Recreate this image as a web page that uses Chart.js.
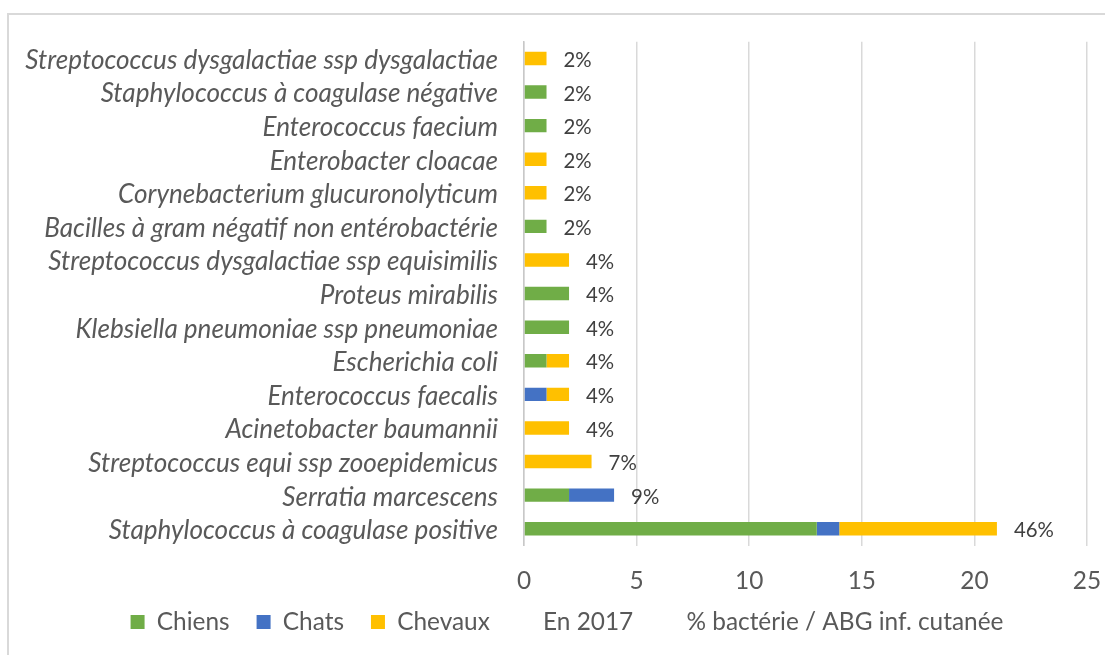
<!DOCTYPE html>
<html>
<head>
<meta charset="utf-8">
<script src="https://cdn.jsdelivr.net/npm/chart.js@4"></script>
<style>
  html, body { margin: 0; padding: 0; background: #fff; overflow: hidden; }
</style>
</head>
<body>
<canvas id="myChartBar" width="1105" height="655"></canvas>
<script>
const categories = [
  'Streptococcus dysgalactiae ssp dysgalactiae',
  'Staphylococcus à coagulase négative',
  'Enterococcus faecium',
  'Enterobacter cloacae',
  'Corynebacterium glucuronolyticum',
  'Bacilles à gram négatif non entérobactérie',
  'Streptococcus dysgalactiae ssp equisimilis',
  'Proteus mirabilis',
  'Klebsiella pneumoniae ssp pneumoniae',
  'Escherichia coli',
  'Enterococcus faecalis',
  'Acinetobacter baumannii',
  'Streptococcus equi ssp zooepidemicus',
  'Serratia marcescens',
  'Staphylococcus à coagulase positive'
];
const chiens  = [0, 1, 1, 0, 0, 1, 0, 2, 2, 1, 0, 0, 0, 2, 13];
const chats   = [0, 0, 0, 0, 0, 0, 0, 0, 0, 0, 1, 0, 0, 2, 1];
const chevaux = [1, 0, 0, 1, 1, 0, 2, 0, 0, 1, 1, 2, 3, 0, 7];
const pctLabels = ['2%', '2%', '2%', '2%', '2%', '2%', '4%', '4%', '4%', '4%', '4%', '4%', '7%', '9%', '46%'];
const xMin = 0, xMax = 25, xStep = 5;

const FONT = 'Lato';

// pick a font size so a string spans about the width seen in the picture
function fitSize(text, target, style) {
  const c = document.createElement('canvas').getContext('2d');
  c.font = style + ' 100px ' + FONT;
  return Math.round(100 * target / c.measureText(text).width * 10) / 10;
}
const yFont = fitSize(categories[0], 473, 'italic');
const legFont = fitSize('% bactérie / ABG inf. cutanée', 317, 'normal');
const lblFont = fitSize('46%', 40, 'normal');
const legPad = 27;
const xAxisH = 48;
const plotBottom = 545.5;
const legendX = 567;
const legendY = 622;

const frame = {
  id: 'frame',
  beforeDraw(chart) {
    const ctx = chart.ctx;
    ctx.save();
    ctx.fillStyle = '#fff';
    ctx.fillRect(0, 0, chart.width, chart.height);
    ctx.strokeStyle = '#d9d9d9';
    ctx.lineWidth = 2;
    ctx.strokeRect(8, 14, 1300, 1000);
    ctx.restore();
  }
};

// legend sits a bit right of the page centre and closer to the axis in the original
const legendNudge = {
  id: 'legendNudge',
  afterLayout(chart) {
    const lg = chart.legend;
    const dx = legendX - (lg.left + lg.right) / 2;
    const dy = lg.top + legPad + legFont / 2 - legendY;
    lg.left += dx;
    lg.right += dx;
    lg.top -= dy;
    lg.bottom -= dy;
  }
};

const pctText = {
  id: 'pctText',
  afterDatasetsDraw(chart) {
    const { ctx, scales: { x, y } } = chart;
    ctx.save();
    ctx.font = lblFont + 'px ' + FONT;
    ctx.fillStyle = '#404040';
    ctx.textAlign = 'left';
    ctx.textBaseline = 'middle';
    categories.forEach((c, i) => {
      const total = chiens[i] + chats[i] + chevaux[i];
      ctx.fillText(pctLabels[i], x.getPixelForValue(total) + 17, y.getPixelForValue(i) + 2);
    });
    ctx.restore();
  }
};

const ctx = document.getElementById('myChartBar');
new Chart(ctx, {
  type: 'bar',
  data: {
    labels: categories,
    datasets: [
      { label: 'Chiens', data: chiens, backgroundColor: '#70ad47', borderWidth: 0 },
      { label: 'Chats', data: chats, backgroundColor: '#4472c4', borderWidth: 0 },
      { label: 'Chevaux', data: chevaux, backgroundColor: '#ffc000', borderWidth: 0 },
      { label: 'En 2017', data: [], backgroundColor: 'rgba(0,0,0,0)', borderWidth: 0 },
      { label: '% bactérie / ABG inf. cutanée', data: [], backgroundColor: 'rgba(0,0,0,0)', borderWidth: 0 }
    ]
  },
  options: {
    indexAxis: 'y',
    responsive: false,
    animation: false,
    datasets: { bar: { barPercentage: 0.4, categoryPercentage: 1 } },
    layout: {
      padding: { left: 10, right: 18, top: 40, bottom: 655 - plotBottom - xAxisH - (legFont + legPad + 10) }
    },
    scales: {
      x: {
        stacked: true,
        min: xMin,
        max: xMax,
        ticks: { stepSize: xStep, padding: 21, color: '#595959', font: { family: FONT, size: legFont } },
        grid: { color: '#d9d9d9', lineWidth: 1.5, drawTicks: false },
        border: { display: false },
        afterFit(scale) {
          scale.height = xAxisH;
          scale.paddingLeft = 0;
          scale.paddingRight = 0;
        }
      },
      y: {
        stacked: true,
        ticks: {
          autoSkip: false, padding: 26, labelOffset: 2, color: '#595959',
          font: { family: FONT, size: yFont, style: 'italic' }
        },
        grid: { display: false, drawTicks: false },
        border: { display: true, color: '#c8c8c8', width: 1.5 },
        afterFit(scale) { scale.width = 514; }
      }
    },
    plugins: {
      tooltip: { enabled: false },
      legend: {
        position: 'bottom',
        labels: { boxWidth: 14, boxHeight: 14, padding: legPad, color: '#595959', font: { family: FONT, size: legFont } }
      }
    }
  },
  plugins: [frame, legendNudge, pctText]
});
</script>
</body>
</html>
